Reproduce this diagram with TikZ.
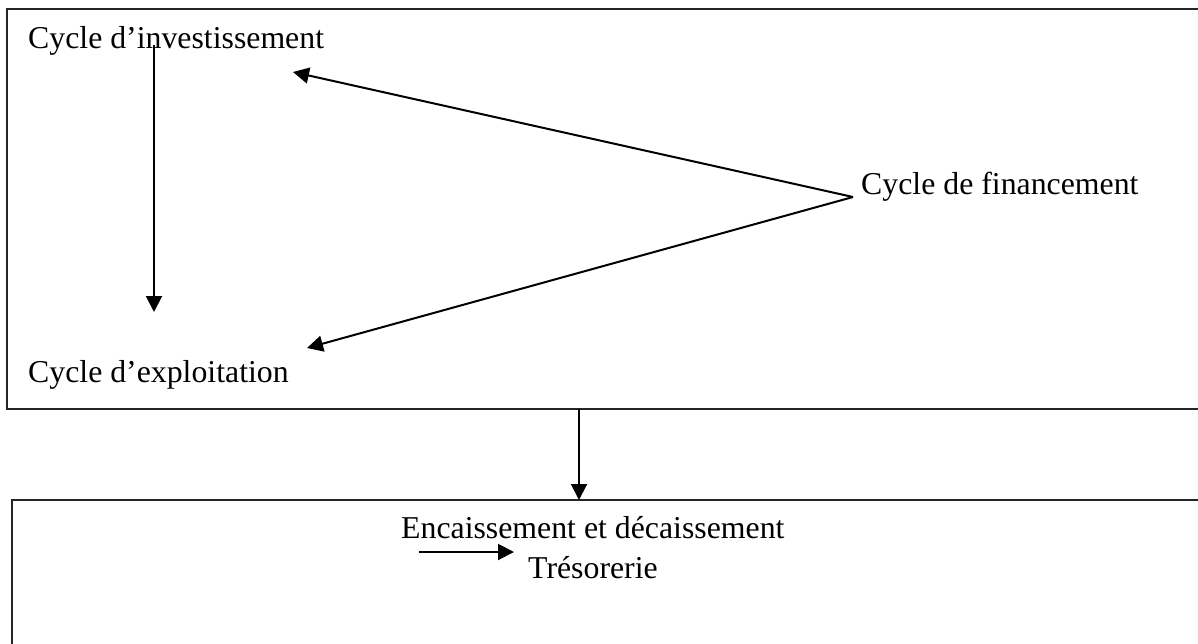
\documentclass[tikz,border=0pt]{standalone}
\usepackage{fontspec}
\setmainfont{Liberation Serif}
\usetikzlibrary{arrows.meta}
\tikzset{
  lbl/.style={anchor=base west, inner sep=0pt, font=\fontsize{31.8}{38}\selectfont},
  boxline/.style={draw=black!85, line width=2.2pt},
  arr/.style={line width=2pt, -{Triangle[length=16pt,width=16pt]}}
}
\begin{document}
\begin{tikzpicture}[x=1pt,y=-1pt]
\clip (0,0) rectangle (1198,643);
\fill[white] (0,0) rectangle (1198,643);
% boxes
\draw[boxline] (7,9) rectangle (1215,409);
\draw[boxline] (12,500) rectangle (1215,660);
% texts
\node[lbl] (inv) at (28,48) {Cycle d’investissement};
\node[lbl] (exp) at (28,382) {Cycle d’exploitation};
\node[lbl] (fin) at (861,194) {Cycle de financement};
\node[lbl] (enc) at (401,538) {Encaissement et décaissement};
\node[lbl] (tre) at (528,578) {Trésorerie};
% connector points
\coordinate (vtop) at (154,45);
\coordinate (vtip) at (154,312);
\coordinate (j) at (853,197);
\coordinate (invtip) at (293,72);
\coordinate (exptip) at (307,348);
\coordinate (b1) at (579,409);
\coordinate (b2) at (579,500);
\coordinate (h1) at (419,552);
\coordinate (h2) at (514,552);
% arrows
\draw[arr] (vtop) -- (vtip);
\draw[arr] (j) -- (invtip);
\draw[arr] (j) -- (exptip);
\draw[arr] (b1) -- (b2);
\draw[arr] (h1) -- (h2);
\end{tikzpicture}
\end{document}
